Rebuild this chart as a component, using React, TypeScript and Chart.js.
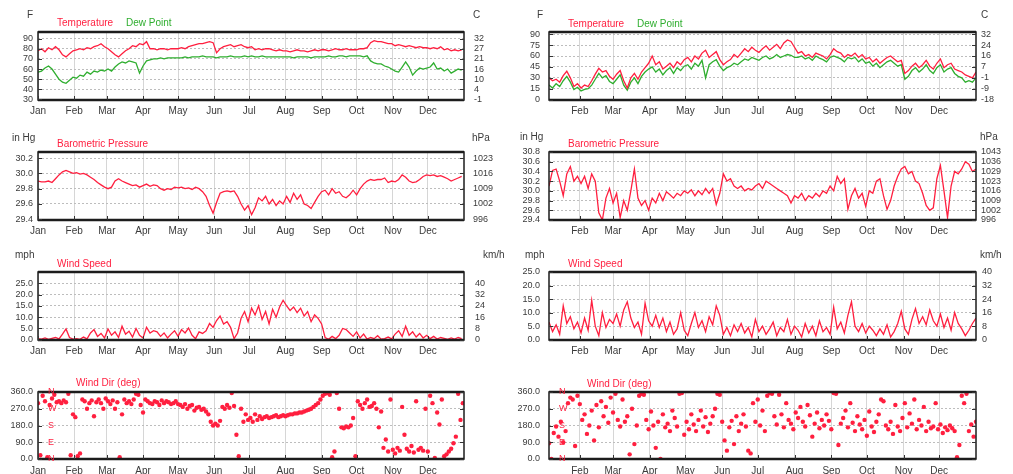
import React, { useEffect, useRef } from 'react';
import { Chart, registerables } from 'chart.js';

Chart.register(...registerables);

// ---------- axis data ----------
const MONTH_NAMES = ['Jan', 'Feb', 'Mar', 'Apr', 'May', 'Jun', 'Jul', 'Aug', 'Sep', 'Oct', 'Nov', 'Dec'];
const MONTH_STARTS = [0, 31, 59, 90, 120, 151, 181, 212, 243, 273, 304, 334];

const LEFT_START_DAY = 0;
const RIGHT_START_DAY = 5;
const LINE_STEP = 3;
const DIR_STEP = 2;

const TEMP_TICKS_LEFT = [30, 40, 50, 60, 70, 80, 90];
const TEMP_TICKS_RIGHT = [0, 15, 30, 45, 60, 75, 90];
const PRES_TICKS_LEFT = [29.4, 29.6, 29.8, 30.0, 30.2];
const PRES_TICKS_RIGHT = [29.4, 29.6, 29.8, 30.0, 30.2, 30.4, 30.6, 30.8];
const WIND_TICKS = [0, 5, 10, 15, 20, 25];
const DIR_TICKS = [0, 90, 180, 270, 360];
const COMPASS = [['N', 360], ['W', 270], ['S', 180], ['E', 90], ['N', 0]];

// ---------- series (left station, days 0..363 every 3 days) ----------
const leftTempF = [
  78, 80, 77, 81, 79, 82, 79, 74, 72, 75, 78,
  79, 80, 79, 81, 80, 82, 83, 85, 82,
  80, 77, 74, 72, 75, 78, 80, 83, 82, 85, 84,
  87, 80, 80, 79, 80, 80, 79, 80, 80,
  80, 81, 80, 82, 83, 84, 85, 85, 86, 87, 86,
  76, 80, 82, 83, 84, 82, 83, 84, 82, 81,
  82, 79, 80, 79, 80, 80, 79, 78, 79, 78,
  78, 77, 78, 79, 78, 78, 77, 78, 79, 78,
  79, 79, 78, 79, 80, 79, 79, 80, 79, 79,
  79, 80, 80, 81, 86, 88, 87, 87, 86, 85, 85,
  83, 84, 83, 82, 83, 82, 81, 82, 81,
  81, 80, 81, 80, 82, 79, 80, 78, 79, 78, 79,
];
const leftDewF = [
  57, 58, 61, 63, 60, 55, 50, 47, 46, 49, 52,
  51, 54, 53, 57, 55, 58, 57, 59, 58,
  60, 58, 62, 65, 67, 66, 68, 67, 66, 56, 63,
  68, 69, 70, 70, 71, 70, 71, 71, 71,
  71, 71, 72, 71, 72, 72, 72, 73, 72, 72, 72,
  71, 72, 72, 72, 73, 72, 72, 72, 73, 72,
  73, 72, 72, 73, 72, 72, 72, 72, 72, 72,
  72, 72, 71, 72, 72, 72, 72, 71, 72, 72,
  72, 72, 73, 72, 72, 73, 73, 72, 73, 73,
  73, 73, 72, 73, 68, 66, 65, 65, 63, 62, 60,
  58, 57, 62, 67, 62, 54, 58, 61, 60,
  61, 62, 66, 60, 61, 58, 60, 56, 58, 60, 59,
];
const leftPressureInHg = [
  29.90, 29.89, 29.89, 29.90, 29.88, 29.93, 29.98, 30.02, 30.04, 30.02, 30.00,
  30.01, 29.99, 30.00, 29.98, 29.95, 29.92, 29.88, 29.85, 29.82,
  29.80, 29.82, 29.90, 29.93, 29.90, 29.88, 29.86, 29.84, 29.85, 29.82, 29.84,
  29.86, 29.83, 29.85, 29.84, 29.80, 29.78, 29.80, 29.79, 29.82,
  29.81, 29.82, 29.80, 29.81, 29.79, 29.82, 29.80, 29.76, 29.70, 29.58, 29.48,
  29.62, 29.74, 29.76, 29.77, 29.76, 29.77, 29.70, 29.60, 29.52, 29.58,
  29.46, 29.55, 29.68, 29.64, 29.70, 29.60, 29.66, 29.58, 29.64, 29.60,
  29.70, 29.62, 29.74, 29.66, 29.72, 29.60, 29.58, 29.54, 29.62, 29.70,
  29.76, 29.78, 29.72, 29.80, 29.74, 29.76, 29.70, 29.68, 29.72, 29.78,
  29.72, 29.80, 29.86, 29.90, 29.92, 29.91, 29.92, 29.92, 29.94, 29.88, 29.90,
  29.89, 29.92, 29.98, 29.95, 29.90, 29.88, 29.89, 29.92, 29.96,
  29.98, 29.97, 29.98, 29.96, 29.97, 29.95, 29.93, 29.90, 29.92, 29.94, 29.96,
];
const leftWindMph = [
  0.5, 0.3, 0.8, 0.2, 0.6, 1.0, 0.4, 2.5, 4.8, 1.0, 0.3,
  0.5, 0.2, 1.2, 0.4, 3.0, 4.5, 1.5, 2.8, 0.8,
  4.8, 2.0, 3.5, 1.0, 6.0, 2.5, 3.8, 1.2, 5.0, 2.0, 0.8,
  5.5, 3.0, 4.0, 3.5, 1.5, 3.0, 0.8, 2.5, 4.0,
  1.5, 4.5, 3.0, 5.2, 2.0, 0.5, 3.5, 2.8, 4.0, 7.2, 5.5,
  8.5, 10.5, 7.0, 8.0, 5.5, 0.5, 3.0, 9.5, 12.5, 8.0,
  14.0, 11.0, 15.0, 9.0, 12.5, 7.0, 13.5, 10.0, 14.5, 17.5,
  15.0, 13.0, 14.5, 12.0, 14.0, 10.5, 12.5, 8.0, 11.0, 9.5,
  7.0, 1.0, 0.2, 1.5, 0.5, 2.0, 5.0, 4.5, 3.0, 1.5,
  3.5, 0.8, 2.5, 0.3, 1.0, 0.5, 1.8, 0.3, 0.5, 1.2, 0.4,
  2.5, 4.0, 1.5, 6.0, 2.0, 3.5, 1.2, 2.8, 0.8,
  2.0, 0.5, 1.5, 0.3, 1.0, 0.6, 0.2, 0.8, 0.3, 1.0, 0.5,
];
// every 2 days, days 0..364
const leftWindDirDeg = [
  300, 20, 340, 310, 10, 290, 325, 345, 305, 310, 300, 315, 305, 350, 20, 240,
  225, 15, 30, 320, 310, 270, 300, 315, 230, 305, 320, 300, 270, 325,
  310, 295, 315, 270, 305, 10, 240, 320, 300, 310, 295, 320, 350, 345, 290, 250,
  320, 310, 300, 295, 310, 305, 290, 315, 300, 310, 305, 295, 300, 310, 295,
  290, 280, 295, 270, 285, 290, 260, 275, 280, 265, 270, 255, 240, 200, 180,
  190, 180, 205, 280, 270, 290, 275, 355, 285, 130, 15, 270, 200, 240, 210,
  220, 200, 240, 210, 230, 215, 225, 230, 220, 225, 230, 235, 225, 230, 235,
  230, 235, 240, 240, 245, 245, 250, 250, 255, 260, 265, 270, 280, 290, 300,
  320, 340, 350, 355, 345, 10, 40, 355, 270, 170, 165, 175, 170, 180, 220,
  15, 310, 290, 270, 300, 320, 280, 285, 300, 270, 170, 255, 60, 105, 40, 320,
  50, 30, 60, 45, 280, 130, 55, 40, 70, 35, 310, 50, 60, 45, 270, 40,
  340, 300, 5, 250, 185, 320, 15, 25, 40, 55, 85, 120, 350, 210, 300,
];

// ---------- series (right station, days 5..365 every 3 days) ----------
const rightTempF = [
  30, 26, 28, 24, 33, 39, 30, 18, 22,
  16, 20, 18, 26, 35, 43, 38, 40, 32,
  28, 35, 40, 26, 16, 30, 36, 28, 38, 44, 50,
  60, 48, 52, 42, 46, 50, 44, 52, 48, 55,
  58, 52, 60, 56, 64, 68, 58, 62, 66, 55,
  48, 52, 55, 62, 58, 64, 70, 66, 72, 68, 65,
  70, 74, 68, 72, 76, 70, 78, 82, 80, 72,
  64, 66, 60, 62, 58, 64, 62, 60, 56, 62,
  70, 66, 64, 58, 62, 60, 64, 58, 62, 56,
  58, 52, 56, 50, 54, 58, 60, 56, 52, 54,
  36, 40, 46, 50, 44, 48, 54, 46, 42, 50,
  56, 44, 48, 50, 42, 40, 38, 34, 32, 30, 38,
];
const rightDewF = [
  20, 16, 22, 18, 26, 32, 24, 14, 17,
  12, 14, 15, 20, 28, 36, 30, 33, 25,
  22, 28, 34, 20, 13, 24, 30, 22, 32, 38, 42,
  45, 38, 42, 34, 40, 44, 36, 44, 40, 46,
  48, 42, 50, 46, 54, 30, 48, 52, 55, 46,
  40, 44, 46, 50, 48, 52, 56, 54, 58, 56, 54,
  58, 60, 56, 58, 62, 58, 60, 62, 61, 58,
  58, 60, 56, 58, 54, 60, 57, 55, 52, 58,
  60, 58, 56, 52, 58, 56, 58, 52, 56, 50,
  52, 46, 50, 44, 48, 52, 54, 50, 46, 48,
  28, 32, 40, 44, 38, 42, 48, 40, 36, 44,
  48, 38, 42, 44, 36, 32, 30, 24, 26, 24, 30,
];
const rightPressureInHg = [
  30.10, 30.42, 30.45, 30.20, 29.90, 30.35, 30.50, 30.20, 30.30,
  30.15, 30.30, 30.05, 30.35, 30.20, 29.55, 29.40, 29.85, 30.05,
  29.75, 29.95, 29.45, 29.80, 29.60, 30.00, 30.45, 29.85, 29.70, 29.80, 29.60,
  29.85, 29.75, 29.95, 29.80, 29.98, 29.92, 29.85, 29.95, 29.90, 30.00,
  29.95, 30.02, 29.90, 30.00, 29.92, 30.05, 29.95, 30.05, 29.72, 29.95,
  30.35, 30.20, 30.25, 30.10, 30.05, 30.10, 30.00, 30.05, 30.02, 30.10, 30.15,
  30.05, 30.20, 30.15, 30.10, 30.05, 30.00, 29.95, 29.90, 29.75, 29.90,
  29.85, 29.95, 29.80, 29.90, 29.85, 29.95, 29.88, 30.00, 29.95, 30.10,
  30.00, 30.30, 30.15, 30.25, 29.62, 29.90, 30.05, 29.85, 29.95, 29.68,
  30.00, 29.95, 30.20, 30.25, 29.90, 29.62, 29.80, 30.10, 30.30, 30.45,
  30.50, 30.35, 30.40, 30.20, 30.15, 29.95, 29.70, 29.60, 29.65, 30.25,
  30.52, 30.00, 29.45, 30.10, 30.40, 30.35, 30.45, 30.60, 30.55, 30.40, 30.45,
];
const rightWindMph = [
  6.5, 3.0, 5.5, 2.0, 12.5, 6.0, 8.5, 4.0, 6.5,
  2.5, 8.0, 3.5, 14.5, 5.0, 1.5, 10.0, 4.5, 7.5,
  6.0, 9.5, 5.0, 11.0, 14.0, 8.0, 4.5, 6.5, 2.0, 13.5, 7.0,
  5.0, 9.0, 4.5, 8.0, 3.0, 6.5, 2.0, 4.0, 10.0, 3.5,
  1.5, 6.0, 10.0, 4.5, 7.0, 3.0, 8.5, 5.5, 12.5, 9.0,
  2.0, 4.5, 1.5, 5.5, 3.0, 6.0, 2.5, 4.5, 1.0, 7.5, 3.0,
  5.0, 2.0, 4.0, 6.5, 1.5, 4.5, 3.0, 7.5, 2.0, 5.0,
  3.5, 1.0, 6.0, 2.5, 5.0, 1.5, 7.0, 3.0, 4.5, 2.0,
  12.0, 4.0, 6.5, 2.5, 9.0, 14.0, 5.0, 3.0, 6.0, 2.5,
  5.0, 3.5, 1.5, 4.0, 2.0, 5.5, 1.0, 3.0, 6.0, 10.5,
  4.0, 2.0, 7.5, 11.5, 6.0, 8.5, 5.5, 11.0, 7.0, 5.0,
  9.5, 4.5, 8.0, 3.5, 10.0, 6.0, 4.0, 1.5, 3.5, 6.0, 8.0,
];
// every 2 days, days 5..365
const rightWindDirDeg = [
  85, 0, 140, 175, 120, 200, 90, 150, 300, 330,
  320, 70, 340, 295, 210, 240, 135, 180, 260, 100,
  290, 170, 310, 230, 280, 195, 330, 250, 350, 210,
  175, 320, 200, 230, 25, 270, 80, 180, 340, 350,
  345, 210, 160, 255, 180, 60, 200, 0, 240, 170,
  190, 150, 260, 220, 175, 350, 355, 130, 200, 160,
  240, 185, 150, 210, 260, 175, 225, 145, 190, 230,
  270, 350, 345, 200, 100, 45, 170, 205, 80, 230,
  150, 190, 240, 175, 45, 30, 300, 200, 320, 180,
  260, 150, 340, 355, 350, 230, 185, 345, 240, 170,
  300, 210, 190, 160, 250, 220, 280, 200, 175, 290,
  235, 120, 190, 250, 165, 210, 180, 240, 205, 160,
  355, 350, 75, 190, 220, 260, 170, 300, 195, 150,
  230, 185, 160, 210, 125, 255, 175, 145, 200, 240,
  320, 310, 180, 160, 200, 135, 290, 175, 150, 220,
  300, 170, 245, 190, 320, 160, 210, 180, 280, 150,
  200, 165, 175, 300, 160, 185, 140, 170, 155, 180,
  165, 150, 10, 75, 340, 300, 350, 150, 185, 120,
  200,
];

// ---------- styling ----------
const RED = '#ff1f3f';
const GREEN = '#2fae2f';
const AXIS_TEXT = '#3a3a3a';
const FONT_FAMILY = '"Liberation Sans", Arial, Helvetica, sans-serif';

const fToC = (v: number) => ((v - 32) * 5) / 9;
const inHgToHpa = (v: number) => v * 33.8639;
const mphToKmh = (v: number) => v * 1.609344;

const toPoints = (vals: number[], start: number, step: number) =>
  vals.map((v, i) => ({ x: start + i * step, y: v }));

const lineDs = (vals: number[], start: number, color: string) => ({
  type: 'line',
  data: toPoints(vals, start, LINE_STEP),
  borderColor: color,
  borderWidth: 1.3,
  pointRadius: 0,
  tension: 0,
  fill: false,
});
const dirDs = (vals: number[], start: number) => ({
  type: 'scatter',
  data: toPoints(vals, start, DIR_STEP),
  backgroundColor: RED,
  borderColor: RED,
  borderWidth: 0,
  pointRadius: 2.2,
  showLine: false,
});

type TextItem = { t: string; x: number; y: number; c: string };
type PanelDef = {
  id: string;
  left: number;
  top: number;
  width: number;
  height: number;
  area: { l: number; t: number; r: number; b: number };
  xMin: number;
  xMax: number;
  xPad: number;
  yMin: number;
  yMax: number;
  yTicks: number[];
  yFmt: (v: number) => string;
  leftPad: number;
  conv?: (v: number) => number;
  rightPad: number;
  datasets: any[];
  texts: TextItem[];
  compassX?: number;
};

const int = (v: number) => String(Math.round(v));
const one = (v: number) => v.toFixed(1);

const LW = 506; // left column canvas width
const RW = 507; // right column canvas width
const LEFT_AREA = { l: 38, r: 464 };
const RIGHT_AREA = { l: 43, r: 470 };

const PANELS: PanelDef[] = [
  {
    id: 'lt', left: 0, top: 0, width: LW, height: 120,
    area: { ...LEFT_AREA, t: 32, b: 100 }, xMin: 0, xMax: 365, xPad: 5,
    yMin: 29.5, yMax: 96.5, yTicks: TEMP_TICKS_LEFT, yFmt: int, leftPad: 5,
    conv: fToC, rightPad: 10,
    datasets: [lineDs(leftTempF, LEFT_START_DAY, RED), lineDs(leftDewF, LEFT_START_DAY, GREEN)],
    texts: [
      { t: 'F', x: 27, y: 15, c: AXIS_TEXT }, { t: 'C', x: 473, y: 15, c: AXIS_TEXT },
      { t: 'Temperature', x: 57, y: 23, c: RED }, { t: 'Dew Point', x: 126, y: 23, c: GREEN },
    ],
  },
  {
    id: 'rt', left: 506, top: 0, width: RW, height: 120,
    area: { ...RIGHT_AREA, t: 32, b: 100 }, xMin: 5, xMax: 365, xPad: 5,
    yMin: -0.5, yMax: 93, yTicks: TEMP_TICKS_RIGHT, yFmt: int, leftPad: 9,
    conv: fToC, rightPad: 5,
    datasets: [lineDs(rightTempF, RIGHT_START_DAY, RED), lineDs(rightDewF, RIGHT_START_DAY, GREEN)],
    texts: [
      { t: 'F', x: 31, y: 15, c: AXIS_TEXT }, { t: 'C', x: 475, y: 15, c: AXIS_TEXT },
      { t: 'Temperature', x: 62, y: 24, c: RED }, { t: 'Dew Point', x: 131, y: 24, c: GREEN },
    ],
  },
  {
    id: 'lp', left: 0, top: 120, width: LW, height: 120,
    area: { ...LEFT_AREA, t: 32, b: 100 }, xMin: 0, xMax: 365, xPad: 5,
    yMin: 29.39, yMax: 30.28, yTicks: PRES_TICKS_LEFT, yFmt: one, leftPad: 5,
    conv: inHgToHpa, rightPad: 9,
    datasets: [lineDs(leftPressureInHg, LEFT_START_DAY, RED)],
    texts: [
      { t: 'in Hg', x: 12, y: 18, c: AXIS_TEXT }, { t: 'hPa', x: 472, y: 18, c: AXIS_TEXT },
      { t: 'Barometric Pressure', x: 57, y: 24, c: RED },
    ],
  },
  {
    id: 'rp', left: 506, top: 120, width: RW, height: 120,
    area: { ...RIGHT_AREA, t: 32, b: 100 }, xMin: 5, xMax: 365, xPad: 5,
    yMin: 29.4, yMax: 30.8, yTicks: PRES_TICKS_RIGHT, yFmt: one, leftPad: 9,
    conv: inHgToHpa, rightPad: 5,
    datasets: [lineDs(rightPressureInHg, RIGHT_START_DAY, RED)],
    texts: [
      { t: 'in Hg', x: 14, y: 17, c: AXIS_TEXT }, { t: 'hPa', x: 474, y: 17, c: AXIS_TEXT },
      { t: 'Barometric Pressure', x: 62, y: 24, c: RED },
    ],
  },
  {
    id: 'lw', left: 0, top: 240, width: LW, height: 120,
    area: { ...LEFT_AREA, t: 32, b: 100 }, xMin: 0, xMax: 365, xPad: 5,
    yMin: -0.1, yMax: 30, yTicks: WIND_TICKS, yFmt: one, leftPad: 5,
    conv: mphToKmh, rightPad: 11,
    datasets: [lineDs(leftWindMph, LEFT_START_DAY, RED)],
    texts: [
      { t: 'mph', x: 15, y: 15, c: AXIS_TEXT }, { t: 'km/h', x: 483, y: 15, c: AXIS_TEXT },
      { t: 'Wind Speed', x: 57, y: 24, c: RED },
    ],
  },
  {
    id: 'rw', left: 506, top: 240, width: RW, height: 120,
    area: { ...RIGHT_AREA, t: 32, b: 100 }, xMin: 5, xMax: 365, xPad: 5,
    yMin: -0.1, yMax: 25, yTicks: WIND_TICKS, yFmt: one, leftPad: 9,
    conv: mphToKmh, rightPad: 6,
    datasets: [lineDs(rightWindMph, RIGHT_START_DAY, RED)],
    texts: [
      { t: 'mph', x: 19, y: 15, c: AXIS_TEXT }, { t: 'km/h', x: 474, y: 15, c: AXIS_TEXT },
      { t: 'Wind Speed', x: 62, y: 24, c: RED },
    ],
  },
  {
    id: 'ld', left: 0, top: 360, width: LW, height: 120,
    area: { ...LEFT_AREA, t: 32, b: 99 }, xMin: 0, xMax: 365, xPad: 6,
    yMin: 0, yMax: 360, yTicks: DIR_TICKS, yFmt: one, leftPad: 5,
    rightPad: 0,
    datasets: [dirDs(leftWindDirDeg, LEFT_START_DAY)],
    texts: [{ t: 'Wind Dir (deg)', x: 76, y: 23, c: RED }],
    compassX: 10,
  },
  {
    id: 'rd', left: 506, top: 360, width: RW, height: 120,
    area: { ...RIGHT_AREA, t: 32, b: 99 }, xMin: 5, xMax: 365, xPad: 6,
    yMin: 0, yMax: 360, yTicks: DIR_TICKS, yFmt: one, leftPad: 9,
    rightPad: 0,
    datasets: [dirDs(rightWindDirDeg, RIGHT_START_DAY)],
    texts: [{ t: 'Wind Dir (deg)', x: 81, y: 24, c: RED }],
    compassX: 10,
  },
];

const makeDecor = (p: PanelDef) => ({
  id: 'decor_' + p.id,
  afterDraw(chart: any) {
    const { ctx, chartArea: a } = chart;
    ctx.save();
    // frame
    ctx.strokeStyle = '#1c1c1c';
    ctx.lineWidth = 1.5;
    ctx.strokeRect(a.left, a.top, a.right - a.left, a.bottom - a.top);
    ctx.lineWidth = 2.5;
    ctx.beginPath();
    ctx.moveTo(a.left, a.top);
    ctx.lineTo(a.right, a.top);
    ctx.moveTo(a.left, a.bottom);
    ctx.lineTo(a.right, a.bottom);
    ctx.stroke();
    // inner tick marks
    ctx.lineWidth = 1;
    ctx.strokeStyle = '#333';
    ctx.beginPath();
    const ys = chart.scales.y;
    ys.ticks.forEach((t: any) => {
      const py = Math.round(ys.getPixelForValue(t.value)) + 0.5;
      ctx.moveTo(a.left, py);
      ctx.lineTo(a.left + 4, py);
      ctx.moveTo(a.right, py);
      ctx.lineTo(a.right - 4, py);
    });
    const xs = chart.scales.x;
    xs.ticks.forEach((t: any) => {
      const px = Math.round(xs.getPixelForValue(t.value)) + 0.5;
      ctx.moveTo(px, a.bottom);
      ctx.lineTo(px, a.bottom - 4);
    });
    ctx.stroke();
    // texts
    ctx.font = '10px ' + FONT_FAMILY;
    ctx.textBaseline = 'middle';
    ctx.textAlign = 'left';
    p.texts.forEach((tx) => {
      ctx.fillStyle = tx.c;
      ctx.fillText(tx.t, tx.x, tx.y);
    });
    if (p.compassX !== undefined) {
      ctx.font = '9px ' + FONT_FAMILY;
      ctx.fillStyle = RED;
      COMPASS.forEach(([label, deg]) => {
        ctx.fillText(label as string, a.left + (p.compassX as number), ys.getPixelForValue(deg as number));
      });
    }
    ctx.restore();
  },
});

function Panel({ p }: { p: PanelDef }) {
  const ref = useRef<HTMLCanvasElement | null>(null);
  useEffect(() => {
    if (!ref.current) return;
    const xFont = { family: FONT_FAMILY, size: 10 };
    const yFont = { family: FONT_FAMILY, size: 9 };
    const scales: any = {
      x: {
        type: 'linear',
        min: p.xMin,
        max: p.xMax,
        afterFit: (s: any) => {
          s.height = p.height - p.area.b;
        },
        afterBuildTicks: (s: any) => {
          s.ticks = MONTH_STARTS.filter((d) => d >= p.xMin && d <= p.xMax).map((v) => ({ value: v }));
        },
        ticks: {
          autoSkip: false,
          maxRotation: 0,
          padding: p.xPad,
          font: xFont,
          color: AXIS_TEXT,
          callback: (v: any) => {
            const i = MONTH_STARTS.indexOf(Number(v));
            return i >= 0 ? MONTH_NAMES[i] : '';
          },
        },
        grid: { color: '#d6d6d6', drawTicks: false, lineWidth: 1 },
        border: { display: false },
      },
      y: {
        type: 'linear',
        position: 'left',
        min: p.yMin,
        max: p.yMax,
        afterFit: (s: any) => {
          s.width = p.area.l;
        },
        afterBuildTicks: (s: any) => {
          s.ticks = p.yTicks.map((v) => ({ value: v }));
        },
        ticks: {
          autoSkip: false,
          padding: p.leftPad,
          font: yFont,
          color: AXIS_TEXT,
          callback: (v: any) => p.yFmt(Number(v)),
        },
        grid: { color: '#bdbdbd', drawTicks: false, lineWidth: 1 },
        border: { display: false, dash: [2, 2] },
      },
    };
    if (p.conv) {
      const conv = p.conv;
      scales.y2 = {
        type: 'linear',
        position: 'right',
        min: conv(p.yMin),
        max: conv(p.yMax),
        afterFit: (s: any) => {
          s.width = p.width - p.area.r;
        },
        afterBuildTicks: (s: any) => {
          s.ticks = p.yTicks.map((v) => ({ value: conv(v) }));
        },
        ticks: {
          autoSkip: false,
          padding: p.rightPad,
          font: yFont,
          color: AXIS_TEXT,
          callback: (v: any) => int(Number(v)),
        },
        grid: { drawOnChartArea: false, drawTicks: false },
        border: { display: false },
      };
    }
    const chart = new Chart(ref.current, {
      type: 'line',
      data: { datasets: p.datasets as any },
      options: {
        responsive: false,
        maintainAspectRatio: false,
        animation: false,
        layout: {
          padding: { top: p.area.t, left: 0, bottom: 0, right: p.conv ? 0 : p.width - p.area.r },
        },
        plugins: { legend: { display: false }, tooltip: { enabled: false }, title: { display: false } },
        scales,
      } as any,
      plugins: [makeDecor(p)],
    });
    return () => chart.destroy();
  }, [p]);
  return (
    <canvas
      ref={ref}
      width={p.width}
      height={p.height}
      style={{ position: 'absolute', left: p.left, top: p.top, width: p.width, height: p.height }}
    />
  );
}

export default function App() {
  return (
    <div
      style={{
        position: 'absolute',
        left: 0,
        top: 0,
        width: 1013,
        height: 474,
        overflow: 'hidden',
        background: '#fff',
      }}
    >
      {PANELS.map((p) => (
        <Panel key={p.id} p={p} />
      ))}
    </div>
  );
}
